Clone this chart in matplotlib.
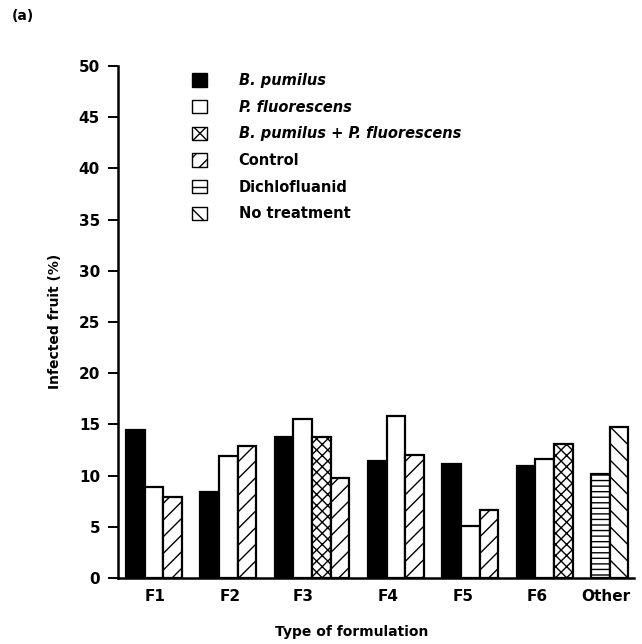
# grouped bar chart of infected fruit by formulation type

import matplotlib.pyplot as plt
from matplotlib.patches import Patch

plt.rcParams['font.family'] = ['DejaVu Sans']
plt.rcParams['hatch.linewidth'] = 1.0

formulations = ['F1', 'F2', 'F3', 'F4', 'F5', 'F6', 'Other']
treatments = ['B. pumilus', 'P. fluorescens', 'B. pumilus + P. fluorescens',
              'Control', 'Dichlofluanid', 'No treatment']

# infected fruit (%) per treatment, None where a group has no bar
b_pumilus = [14.5, 8.4, 13.8, 11.4, 11.1, 10.9, None]
p_fluorescens = [8.9, 11.9, 15.5, 15.8, 5.1, 11.6, None]
combined = [None, None, 13.8, None, None, 13.1, None]
control = [7.9, 12.9, 9.8, 12.0, 6.6, None, None]
dichlofluanid = [None, None, None, None, None, None, 10.2]
no_treatment = [None, None, None, None, None, None, 14.7]

series = [b_pumilus, p_fluorescens, combined, control, dichlofluanid, no_treatment]
colors = ['black', 'white', 'white', 'white', 'white', 'white']
hatches = [None, None, 'xxx', '//', '---', '\\\\']
legend_hatches = [None, None, 'x', '//', '--', '\\\\']

group_start = [0, 4, 8, 13, 17, 21, 25]
label_pos = [1.55, 5.6, 9.5, 14.1, 18.1, 22.1, 25.8]

fig = plt.figure(figsize=(6.42, 6.44), dpi=100)
ax = fig.add_axes([118 / 642, 1 - 578 / 644, (634 - 118) / 642, (578 - 66) / 644])

# bars within a group sit side by side in series order
for g, start in enumerate(group_start):
    k = 0
    for s, vals in enumerate(series):
        if vals[g] is None:
            continue
        ax.bar(start + k, vals[g], width=1, align='edge', color=colors[s],
               edgecolor='black', linewidth=1.6, hatch=hatches[s])
        k += 1

ax.set_xlim(-0.43, 27.3)
ax.set_ylim(0, 50)
ax.set_yticks(range(0, 51, 5))
ax.set_xticks(label_pos)
ax.set_xticklabels(formulations, fontsize=11, fontweight='bold')
for t in ax.get_yticklabels():
    t.set_fontsize(11)
    t.set_fontweight('bold')
ax.tick_params(axis='x', length=0, pad=8)
ax.tick_params(axis='y', length=7, width=1.4, pad=6)

for side in ['top', 'right']:
    ax.spines[side].set_visible(False)
ax.spines['left'].set_linewidth(1.8)
ax.spines['bottom'].set_linewidth(1.8)

fig.text(55 / 642, 1 - 321 / 644, 'Infected fruit (%)', fontsize=10,
         fontweight='bold', rotation=90, ha='center', va='center')
fig.text(352 / 642, 1 - 632 / 644, 'Type of formulation', fontsize=10,
         fontweight='bold', ha='center', va='center')
fig.text(12 / 642, 1 - 16 / 644, '(a)', fontsize=10, fontweight='bold',
         ha='left', va='center')

handles = [Patch(facecolor=colors[i], edgecolor='black', hatch=legend_hatches[i],
                 linewidth=1.0)
           for i in range(len(treatments))]
leg = ax.legend(handles, treatments, loc='upper left', bbox_to_anchor=(0.118, 1.012),
                frameon=False, handlelength=1.0, handleheight=1.0, handletextpad=2.2,
                labelspacing=0.8, prop={'size': 10.5, 'weight': 'bold'})
for i, txt in enumerate(leg.get_texts()):
    if i < 3:
        txt.set_fontstyle('italic')

fig.savefig('out.png', dpi=100)
